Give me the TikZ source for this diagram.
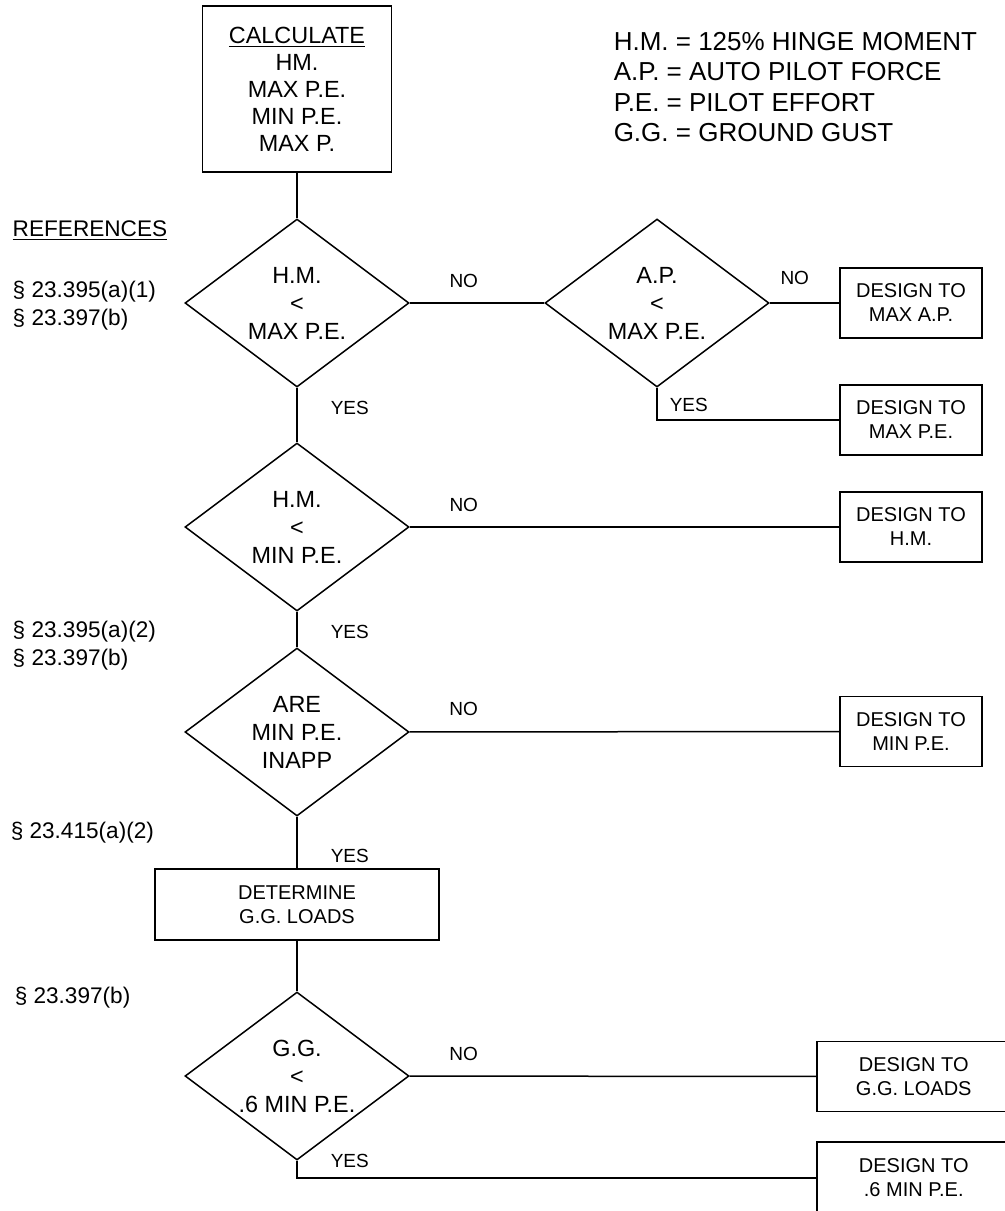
\documentclass[tikz,border=0pt]{standalone}
\usepackage{fontspec}
\setmainfont{Liberation Sans}
\usetikzlibrary{shapes.geometric}

\begin{document}
\begin{tikzpicture}[x=0.5pt,y=-0.5pt,line width=0.75pt,
  dec/.style={diamond,draw,aspect=1.333,inner sep=0pt,minimum width=112pt,minimum height=84pt,align=center,font=\fontsize{11.7}{14}\selectfont},
  act/.style={rectangle,draw,align=center,inner sep=0pt,font=\fontsize{10}{12}\selectfont},
  design/.style={act,minimum width=71pt,minimum height=35pt},
  ans/.style={inner sep=0pt,font=\fontsize{9.5}{11}\selectfont},
  nolbl/.style={ans,pos=0,anchor=south west,xshift=19.5pt,yshift=7.5pt},
  yeslbl/.style={ans,anchor=west,xshift=16.5pt},
  ref/.style={anchor=west,align=left,inner sep=0pt,font=\fontsize{11.3}{14}\selectfont}]
  \useasboundingbox (0,0) rectangle (1005,1211);

  % main column
  \node (calc) [act,minimum width=94.5pt,minimum height=83pt,font=\fontsize{11.7}{13.5}\selectfont] at (297,89) {\underline{CALCULATE}\\HM.\\MAX P.E.\\MIN P.E.\\MAX P.};
  \node (d1) [dec] at (297,303) {H.M.\\<\\MAX P.E.};
  \node (d2) [dec] at (657,303) {A.P.\\<\\MAX P.E.};
  \node (d3) [dec] at (297,527) {H.M.\\<\\MIN P.E.};
  \node (d4) [dec] at (297,732) {ARE\\MIN P.E.\\INAPP};
  \node (det) [act,minimum width=142pt,minimum height=35.5pt] at (297,904.5) {DETERMINE\\G.G. LOADS};
  \node (d5) [dec] at (297,1076) {G.G.\\<\\.6 MIN P.E.};

  % results
  \node (mAP) [design] at (911,303) {DESIGN TO\\MAX A.P.};
  \node (mPE) [design] at (911,420) {DESIGN TO\\MAX P.E.};
  \node (dHM) [design] at (911,527) {DESIGN TO\\H.M.};
  \node (dMin) [design] at (911,731.5) {DESIGN TO\\MIN P.E.};
  \node (dGG) [design,minimum width=97pt,anchor=west] at (816,1076.5) {DESIGN TO\\G.G. LOADS};
  \node (dSix) [design,minimum width=97pt,minimum height=36pt,anchor=west] at (816,1178) {DESIGN TO\\.6 MIN P.E.};

  % key and references
  \node (key) [anchor=west,align=left,inner sep=0pt,font=\fontsize{13}{15.2}\selectfont] at (613,87) {H.M. = 125\% HINGE MOMENT\\A.P. = AUTO PILOT FORCE\\P.E. = PILOT EFFORT\\G.G. = GROUND GUST};
  \node (refs) [ref] at (12,231) {\underline{REFERENCES}};
  \node (r1) [ref] at (12,306) {§ 23.395(a)(1)\\§ 23.397(b)};
  \node (r2) [ref] at (12,645.5) {§ 23.395(a)(2)\\§ 23.397(b)};
  \node (r3) [ref] at (10,833) {§ 23.415(a)(2)};
  \node (r4) [ref] at (14,998) {§ 23.397(b)};

  \path (calc) edge (d1);
  \path (d1) edge node[yeslbl,pos=0.375] {YES} (d3);
  \path (d3) edge node[yeslbl,pos=0.57] {YES} (d4);
  \path (d4) edge node[yeslbl,pos=0.77] {YES} (det);
  \path (det) edge (d5);

  \path (d1) edge node[nolbl] {NO} (d2);
  \path (d2) edge node[ans,pos=0,anchor=south west,xshift=5pt,yshift=9pt] {NO} (mAP);
  \path (d3) edge node[nolbl] {NO} (dHM);
  \path (d4) edge node[nolbl] {NO} (dMin);
  \path (d5) edge node[nolbl] {NO} (dGG);

  \draw (d2.south) |- node[ans,pos=0.26,anchor=west,xshift=6pt] {YES} (mPE.west);
  \draw (d5.south) |- node[yeslbl,pos=0] {YES} (dSix.west);
\end{tikzpicture}
\end{document}
